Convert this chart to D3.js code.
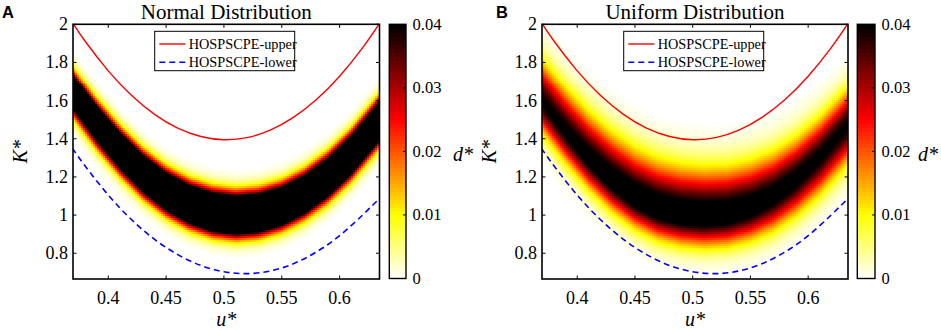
<!DOCTYPE html>
<html><head><meta charset="utf-8">
<script src="https://cdn.jsdelivr.net/npm/d3@7/dist/d3.min.js"></script>
<style>body{margin:0;background:#fff}svg{display:block}</style>
</head><body>
<svg id="c" width="941" height="330"></svg>
<script>
// ---------- data ----------
const xDomain = [0.3695, 0.6345];
const yDomain = [0.665, 2];
const xTicks = [0.4, 0.45, 0.5, 0.55, 0.6];
const xTickLabels = ["0.4", "0.45", "0.5", "0.55", "0.6"];
const yTicks = [0.8, 1, 1.2, 1.4, 1.6, 1.8, 2];
const yTickLabels = ["0.8", "1", "1.2", "1.4", "1.6", "1.8", "2"];
const cbTicks = [0, 0.01, 0.02, 0.03, 0.04];
const cbTickLabels = ["0", "0.01", "0.02", "0.03", "0.04"];
const titles = ["Normal Distribution", "Uniform Distribution"];
const panelLetters = ["A", "B"];
const legendLabels = ["HOSPSCPE-upper", "HOSPSCPE-lower"];

// HOSPSCPE bounds (u*, K*)
const boundU = [0.369, 0.38, 0.40, 0.42, 0.44, 0.46, 0.48, 0.50, 0.52, 0.54, 0.56, 0.58, 0.60, 0.62, 0.634];
const upperK = [2.009, 1.911, 1.756, 1.628, 1.528, 1.456, 1.412, 1.395, 1.406, 1.445, 1.512, 1.606, 1.728, 1.878, 2.000];
const lowerK = [1.350, 1.257, 1.105, 0.977, 0.873, 0.793, 0.736, 0.703, 0.693, 0.707, 0.745, 0.807, 0.892, 1.001, 1.084];

// density band read column by column: ridge K*, peak d*, spread above / below ridge
const bandU = [0.3695, 0.39, 0.41, 0.43, 0.45, 0.47, 0.49, 0.51, 0.53, 0.55, 0.57, 0.59, 0.61, 0.6345];
const ridgeA = [1.650, 1.485, 1.342, 1.221, 1.126, 1.058, 1.016, 1.000, 1.011, 1.048, 1.111, 1.200, 1.316, 1.494];
const peakA = [0.091, 0.095, 0.100, 0.105, 0.110, 0.115, 0.118, 0.118, 0.117, 0.115, 0.113, 0.112, 0.111, 0.111];
const spreadUpA = [0.064, 0.065, 0.066, 0.067, 0.068, 0.069, 0.070, 0.070, 0.070, 0.069, 0.069, 0.069, 0.069, 0.069];
const spreadDownA = [0.074, 0.073, 0.071, 0.070, 0.068, 0.067, 0.066, 0.066, 0.066, 0.067, 0.068, 0.069, 0.070, 0.072];
const ridgeB = [1.600, 1.440, 1.300, 1.185, 1.095, 1.035, 1.005, 0.995, 1.005, 1.040, 1.100, 1.190, 1.305, 1.475];
const peakB = [0.040, 0.041, 0.0425, 0.044, 0.045, 0.0455, 0.0455, 0.0455, 0.045, 0.044, 0.043, 0.042, 0.041, 0.040];
const spreadUpB = [0.138, 0.143, 0.148, 0.152, 0.155, 0.156, 0.156, 0.155, 0.152, 0.148, 0.142, 0.135, 0.128, 0.120];
const spreadDownB = [0.105, 0.103, 0.101, 0.100, 0.099, 0.099, 0.099, 0.100, 0.102, 0.106, 0.111, 0.117, 0.123, 0.129];
const dMax = 0.04;

// ---------- drawing ----------
const svg = d3.select("#c");
const defs = svg.append("defs");
const serif = "'Liberation Serif','Times New Roman',serif";
const plotTop = 24.3, plotBottom = 279;

function hot(d) { // MATLAB 'hot' colormap, flipped (white = 0, black = max)
  const t = 1 - Math.max(0, Math.min(1, d / dMax));
  const cl = v => Math.max(0, Math.min(1, v));
  const r = cl(t / 0.375), g = cl((t - 0.375) / 0.375), b = cl((t - 0.75) / 0.25);
  return d3.rgb(Math.round(r * 255), Math.round(g * 255), Math.round(b * 255)).toString();
}

const panels = [
  {left: 73, right: 379.5, ridge: ridgeA, peak: peakA, up: spreadUpA, down: spreadDownA, cbLeft: 389.3, cbRight: 406, letterX: 2, kLabelX: 27, dLabelX: 453},
  {left: 542, right: 848, ridge: ridgeB, peak: peakB, up: spreadUpB, down: spreadDownB, cbLeft: 857.3, cbRight: 875, letterX: 496, kLabelX: 496, dLabelX: 918}
];

panels.forEach((p, pi) => {
  const x = d3.scaleLinear().domain(xDomain).range([p.left, p.right]);
  const y = d3.scaleLinear().domain(yDomain).range([plotBottom, plotTop]);
  const clipId = "clip" + pi;
  defs.append("clipPath").attr("id", clipId).append("rect")
    .attr("x", p.left).attr("y", plotTop).attr("width", p.right - p.left).attr("height", plotBottom - plotTop);

  const fRidge = d3.scaleLinear().domain(bandU).range(p.ridge).clamp(true);
  const fPeak = d3.scaleLinear().domain(bandU).range(p.peak).clamp(true);
  const fUp = d3.scaleLinear().domain(bandU).range(p.up).clamp(true);
  const fDown = d3.scaleLinear().domain(bandU).range(p.down).clamp(true);

  const nU = 153, nK = 128;
  const du = (xDomain[1] - xDomain[0]) / nU, dk = (yDomain[1] - yDomain[0]) / nK;
  const cells = [];
  for (let i = 0; i < nU; i++) {
    const u0 = xDomain[0] + i * du, uc = u0 + du / 2;
    const c = fRidge(uc), pk = fPeak(uc), su = fUp(uc), sd = fDown(uc);
    for (let j = 0; j < nK; j++) {
      const k0 = yDomain[0] + j * dk, kc = k0 + dk / 2;
      const r = kc - c, s = r > 0 ? su : sd;
      const d = pk * Math.exp(-r * r / (2 * s * s));
      if (d > 0.0004) cells.push({u0, u1: u0 + du, k0, k1: k0 + dk, d});
    }
  }
  svg.append("g").attr("clip-path", `url(#${clipId})`).attr("shape-rendering", "crispEdges")
    .selectAll("rect").data(cells).join("rect")
    .attr("x", d => x(d.u0)).attr("y", d => y(d.k1))
    .attr("width", d => x(d.u1) - x(d.u0) + 0.5).attr("height", d => y(d.k0) - y(d.k1) + 0.5)
    .attr("fill", d => hot(d.d));

  // bound curves
  const line = d3.line().x(d => x(d[0])).y(d => y(d[1])).curve(d3.curveNatural);
  const cg = svg.append("g").attr("clip-path", `url(#${clipId})`);
  cg.append("path").attr("d", line(boundU.map((u, i) => [u, upperK[i]])))
    .attr("fill", "none").attr("stroke", "#ff0000").attr("stroke-width", 1.4);
  cg.append("path").attr("d", line(boundU.map((u, i) => [u, lowerK[i]])))
    .attr("fill", "none").attr("stroke", "#0000ff").attr("stroke-width", 1.6).attr("stroke-dasharray", "6,4");

  // legend
  const lx = p.left + 81.7, ly = 31.3;
  const lg = svg.append("g");
  lg.append("rect").attr("x", lx).attr("y", ly).attr("width", 140).attr("height", 39.4)
    .attr("fill", "#fff").attr("stroke", "#000").attr("stroke-width", 1);
  lg.append("line").attr("x1", lx + 4.6).attr("x2", lx + 30.6).attr("y1", ly + 12.7).attr("y2", ly + 12.7)
    .attr("stroke", "#ff0000").attr("stroke-width", 1.4);
  lg.append("line").attr("x1", lx + 4.6).attr("x2", lx + 30.6).attr("y1", ly + 31).attr("y2", ly + 31)
    .attr("stroke", "#0000ff").attr("stroke-width", 1.6).attr("stroke-dasharray", "6,4");
  legendLabels.forEach((t, i) => {
    lg.append("text").attr("x", lx + 34).attr("y", ly + 17.7 + i * 18.3)
      .attr("font-family", serif).attr("font-size", 14.3).text(t);
  });

  // frame and ticks
  const fg = svg.append("g").attr("stroke", "#000").attr("stroke-width", 1);
  xTicks.forEach(v => {
    fg.append("line").attr("x1", x(v)).attr("x2", x(v)).attr("y1", plotBottom).attr("y2", plotBottom - 3.5);
    fg.append("line").attr("x1", x(v)).attr("x2", x(v)).attr("y1", plotTop).attr("y2", plotTop + 3.5);
  });
  yTicks.forEach(v => {
    fg.append("line").attr("x1", p.left).attr("x2", p.left + 3.5).attr("y1", y(v)).attr("y2", y(v));
    fg.append("line").attr("x1", p.right).attr("x2", p.right - 3.5).attr("y1", y(v)).attr("y2", y(v));
  });
  svg.append("rect").attr("x", p.left).attr("y", plotTop).attr("width", p.right - p.left).attr("height", plotBottom - plotTop)
    .attr("fill", "none").attr("stroke", "#000").attr("stroke-width", 1.6);

  // tick labels
  xTicks.forEach((v, i) => {
    svg.append("text").attr("x", x(v)).attr("y", 303.5).attr("text-anchor", "middle")
      .attr("font-family", serif).attr("font-size", 18).text(xTickLabels[i]);
  });
  yTicks.forEach((v, i) => {
    svg.append("text").attr("x", p.left - 5).attr("y", y(v) + 6).attr("text-anchor", "end")
      .attr("font-family", serif).attr("font-size", 18).text(yTickLabels[i]);
  });

  // axis labels, title, panel letter
  svg.append("text").attr("x", (p.left + p.right) / 2).attr("y", 326).attr("text-anchor", "middle")
    .attr("font-family", serif).attr("font-size", 20).attr("font-style", "italic").text("u*");
  svg.append("text").attr("transform", `translate(${p.kLabelX},${(plotTop + plotBottom) / 2}) rotate(-90)`)
    .attr("text-anchor", "middle").attr("font-family", serif).attr("font-size", 20).attr("font-style", "italic").text("K*");
  svg.append("text").attr("x", (p.left + p.right) / 2).attr("y", 18.5).attr("text-anchor", "middle")
    .attr("font-family", serif).attr("font-size", 21).text(titles[pi]);
  svg.append("text").attr("x", p.letterX).attr("y", 18.3)
    .attr("font-family", "'Liberation Sans',Arial,sans-serif").attr("font-weight", "bold").attr("font-size", 16.5).text(panelLetters[pi]);

  // colorbar
  const cb = d3.scaleLinear().domain([0, dMax]).range([278.5, plotTop]);
  const levels = d3.range(64).map(i => i * dMax / 64);
  svg.append("g").attr("shape-rendering", "crispEdges").selectAll("rect").data(levels).join("rect")
    .attr("x", p.cbLeft).attr("width", p.cbRight - p.cbLeft)
    .attr("y", d => cb(d + dMax / 64)).attr("height", d => cb(d) - cb(d + dMax / 64) + 0.5)
    .attr("fill", d => hot(d + dMax / 128));
  cbTicks.forEach((v, i) => {
    if (v > 0 && v < dMax) {
      svg.append("line").attr("x1", p.cbRight).attr("x2", p.cbRight - 3).attr("y1", cb(v)).attr("y2", cb(v))
        .attr("stroke", "#000").attr("stroke-width", 1);
    }
    svg.append("text").attr("x", p.cbRight + 6.5).attr("y", cb(v) + 5.5)
      .attr("font-family", serif).attr("font-size", 16.5).text(cbTickLabels[i]);
  });
  svg.append("rect").attr("x", p.cbLeft).attr("y", plotTop).attr("width", p.cbRight - p.cbLeft).attr("height", 278.5 - plotTop)
    .attr("fill", "none").attr("stroke", "#000").attr("stroke-width", 1.4);
  svg.append("text").attr("x", p.dLabelX).attr("y", 161).attr("font-family", serif).attr("font-size", 20)
    .attr("font-style", "italic").text("d*");
});
</script>
</body></html>
